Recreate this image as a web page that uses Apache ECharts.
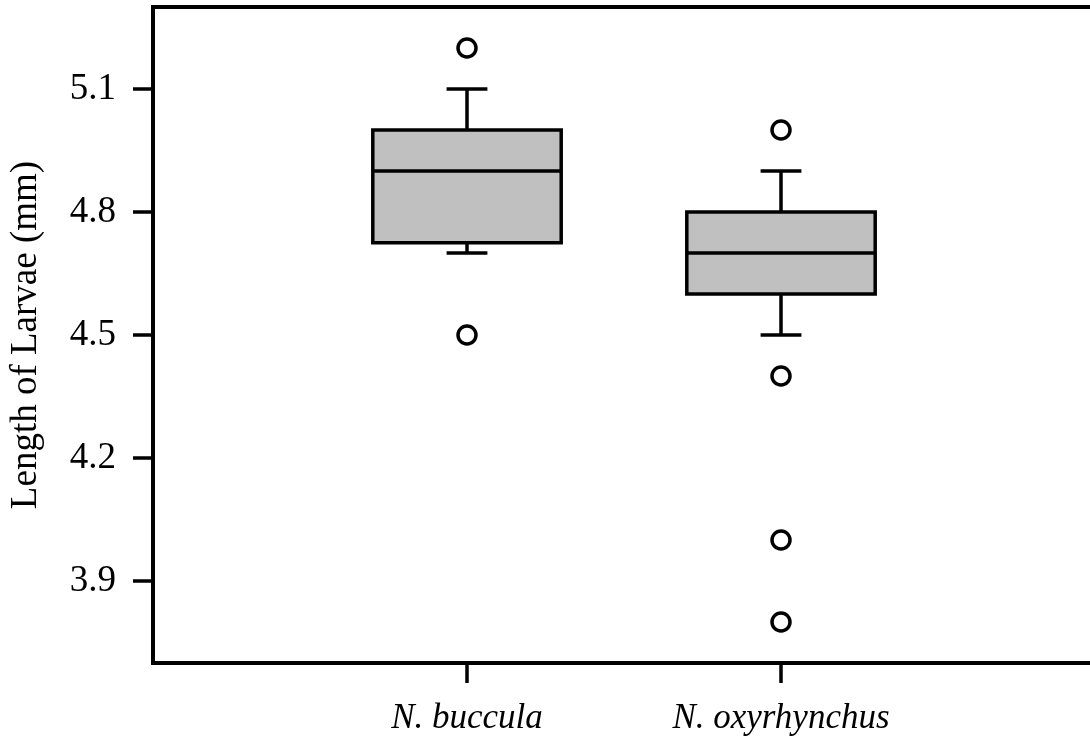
<!DOCTYPE html>
<html>
<head>
<meta charset="utf-8">
<script src="https://cdn.jsdelivr.net/npm/echarts@6/dist/echarts.min.js"></script>
<style>
  html, body { margin: 0; padding: 0; background: #fff; }
  #chart { width: 1090px; height: 748px; }
</style>
</head>
<body>
<div id="chart"></div>
<script>
// Species shown along the x axis
const species = ['N. buccula', 'N. oxyrhynchus'];
// Five-number summaries per species: [lower whisker, Q1, median, Q3, upper whisker]
const lowerWhisker = [4.7, 4.5];
const q1 = [4.725, 4.6];
const median = [4.9, 4.7];
const q3 = [5.0, 4.8];
const upperWhisker = [5.1, 4.9];
// Outlying observations per species
const outliers = [
  [5.2, 4.5],
  [5.0, 4.4, 4.0, 3.8]
];
// Y axis tick values
const yTicks = [3.9, 4.2, 4.5, 4.8, 5.1];

const FONT = '"Liberation Serif", "DejaVu Serif", serif';

const boxData = species.map((s, i) => [i + 1, lowerWhisker[i], q1[i], median[i], q3[i], upperWhisker[i]]);
const outlierData = [];
outliers.forEach((arr, i) => arr.forEach(v => outlierData.push([i + 1, v])));

function renderBox(params, api) {
  const x = api.value(0);
  const lo = api.coord([x, api.value(1)]);
  const b1 = api.coord([x, api.value(2)]);
  const md = api.coord([x, api.value(3)]);
  const b3 = api.coord([x, api.value(4)]);
  const hi = api.coord([x, api.value(5)]);
  const unit = api.size([1, 0])[0];
  const halfBox = unit * 0.3;
  const halfCap = unit * 0.065;
  const cx = lo[0];
  const stroke = { stroke: '#000', lineWidth: 3.5, fill: null };
  return {
    type: 'group',
    children: [
      { type: 'line', shape: { x1: cx, y1: b1[1], x2: cx, y2: lo[1] }, style: stroke },
      { type: 'line', shape: { x1: cx, y1: b3[1], x2: cx, y2: hi[1] }, style: stroke },
      { type: 'line', shape: { x1: cx - halfCap, y1: lo[1], x2: cx + halfCap, y2: lo[1] }, style: stroke },
      { type: 'line', shape: { x1: cx - halfCap, y1: hi[1], x2: cx + halfCap, y2: hi[1] }, style: stroke },
      { type: 'rect', shape: { x: cx - halfBox, y: b3[1], width: halfBox * 2, height: b1[1] - b3[1] },
        style: { fill: '#c0c0c0', stroke: '#000', lineWidth: 3.5 } },
      { type: 'line', shape: { x1: cx - halfBox, y1: md[1], x2: cx + halfBox, y2: md[1] }, style: stroke }
    ]
  };
}

const chart = echarts.init(document.getElementById('chart'), null, { renderer: 'canvas' });
chart.setOption({
  animation: false,
  backgroundColor: '#fff',
  grid: {
    left: 153, top: 7, width: 942, bottom: 85,
    outerBoundsMode: 'none',
    containLabel: false,
    show: true, borderColor: '#000', borderWidth: 4, backgroundColor: 'transparent'
  },
  xAxis: {
    type: 'value', min: 0, max: 3,
    axisLine: { show: false },
    splitLine: { show: false },
    axisTick: { show: true, customValues: [1, 2], length: 20, inside: false,
      lineStyle: { color: '#000', width: 3.5 } },
    axisLabel: {
      customValues: [1, 2],
      formatter: v => species[Math.round(v) - 1] || '',
      margin: 38, color: '#000', fontFamily: FONT, fontSize: 35, fontStyle: 'italic'
    }
  },
  yAxis: {
    type: 'value', min: 3.7, max: 5.3,
    name: 'Length of Larvae (mm)',
    nameLocation: 'middle', nameGap: 108,
    nameTextStyle: { color: '#000', fontFamily: FONT, fontSize: 37 },
    axisLine: { show: false },
    splitLine: { show: false },
    axisTick: { show: true, customValues: yTicks, length: 20,
      lineStyle: { color: '#000', width: 3.5 } },
    axisLabel: {
      customValues: yTicks,
      formatter: v => v.toFixed(1),
      margin: 37, color: '#000', fontFamily: FONT, fontSize: 37
    }
  },
  series: [
    {
      type: 'custom',
      renderItem: renderBox,
      data: boxData,
      encode: { x: 0, y: [1, 2, 3, 4, 5] },
      z: 2
    },
    {
      type: 'scatter',
      data: outlierData,
      symbol: 'circle',
      symbolSize: 18,
      itemStyle: { color: '#fff', borderColor: '#000', borderWidth: 3.5, opacity: 1 },
      z: 3
    }
  ]
});
</script>
</body>
</html>
